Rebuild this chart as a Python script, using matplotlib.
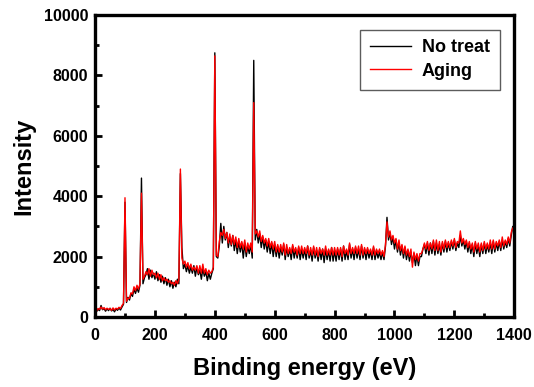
import matplotlib
matplotlib.use('Agg')
import matplotlib.pyplot as plt
import matplotlib.ticker as ticker

plt.rcParams['font.family'] = ['Liberation Sans', 'DejaVu Sans']
plt.rcParams['font.weight'] = 'bold'

# Energía de enlace (eV), cada 5 eV
energia = list(range(0, 1405, 5))

# Intensidad sin tratamiento
no_treat = [
    100, 180, 250, 210, 380, 240, 280, 190, 270, 210, 290, 200, 250, 170, 270, 220, 300, 230, 330, 420,
    3800, 480, 650, 560, 780, 680, 920, 780, 960, 820, 1050, 4600, 1100, 1300, 1400, 1600, 1250, 1550, 1300, 1450,
    1250, 1500, 1200, 1400, 1150, 1350, 1100, 1300, 1050, 1250, 1000, 1200, 950, 1150, 1000, 1250, 1100, 4750, 2300, 1600,
    1750, 1500, 1700, 1450, 1650, 1450, 1700, 1350, 1650, 1400, 1550, 1250, 1600, 1350, 1500, 1200, 1450, 1250, 1450, 1600,
    8750, 2000, 1950, 2350, 3100, 2450, 3000, 2550, 2800, 2300, 2650, 2350, 2700, 2200, 2550, 2100, 2500, 2150, 2450, 1950,
    2450, 2000, 2350, 2100, 2400, 1950, 8500, 2550, 2900, 2450, 2750, 2300, 2650, 2250, 2550, 2150, 2500, 2100, 2450, 2000,
    2400, 2000, 2350, 1950, 2300, 2050, 2400, 1900, 2300, 2000, 2250, 1900, 2350, 1950, 2250, 1950, 2300, 1900, 2250, 1950,
    2250, 1900, 2350, 1950, 2200, 1850, 2300, 1950, 2200, 1850, 2250, 1900, 2250, 1800, 2250, 1900, 2200, 1850, 2300, 1850,
    2200, 1850, 2250, 1900, 2250, 1850, 2350, 1900, 2200, 1900, 2400, 1950, 2250, 1900, 2300, 1950, 2250, 1900, 2350, 1950,
    2250, 1900, 2250, 1950, 2200, 1900, 2300, 1900, 2200, 1950, 2150, 1900, 2150, 1900, 2350, 3300, 2550, 2800, 2400, 2650,
    2250, 2550, 2150, 2450, 2050, 2350, 1950, 2300, 1900, 2200, 1850, 2150, 1800, 2100, 1700, 2050, 1700, 2000, 2000, 2250,
    2400, 2100, 2450, 2050, 2450, 2100, 2500, 2050, 2450, 2100, 2400, 2050, 2450, 2150, 2500, 2150, 2450, 2200, 2500, 2250,
    2550, 2200, 2450, 2300, 2700, 2350, 2550, 2250, 2500, 2150, 2450, 2100, 2400, 2000, 2450, 2100, 2350, 2000, 2400, 2100,
    2450, 2100, 2400, 2150, 2450, 2100, 2500, 2150, 2450, 2200, 2500, 2200, 2550, 2250, 2500, 2300, 2600, 2350, 2700, 3000,
    2800,
]

# Intensidad después del envejecimiento
aging = [
    120, 200, 280, 250, 330, 260, 310, 240, 290, 250, 280, 220, 300, 230, 290, 260, 320, 280, 380, 450,
    3950, 520, 620, 620, 800, 760, 1000, 870, 1050, 920, 1100, 4100, 1250, 1350, 1500, 1400, 1600, 1350, 1550, 1400,
    1450, 1300, 1450, 1250, 1400, 1200, 1300, 1200, 1250, 1150, 1200, 1100, 1150, 1050, 1200, 1100, 1250, 4900, 1950, 1750,
    1850, 1650, 1800, 1600, 1750, 1550, 1650, 1550, 1700, 1450, 1700, 1450, 1750, 1450, 1600, 1400, 1550, 1450, 1500, 1650,
    8650, 2050, 2000, 2500, 2800, 2700, 2900, 2600, 2800, 2450, 2750, 2400, 2700, 2400, 2650, 2300, 2600, 2300, 2500, 2250,
    2550, 2150, 2450, 2250, 2450, 2150, 7100, 2750, 2850, 2650, 2850, 2500, 2700, 2450, 2600, 2350, 2600, 2300, 2500, 2250,
    2500, 2150, 2400, 2150, 2400, 2150, 2450, 2050, 2400, 2100, 2300, 2100, 2400, 2150, 2300, 2050, 2350, 2100, 2350, 2100,
    2300, 2100, 2350, 2050, 2300, 2050, 2350, 2050, 2300, 2000, 2300, 2100, 2250, 2050, 2350, 2050, 2250, 2050, 2300, 2050,
    2300, 2050, 2300, 2050, 2300, 2000, 2350, 2100, 2250, 2050, 2450, 2100, 2300, 2100, 2350, 2100, 2350, 2050, 2400, 2050,
    2300, 2100, 2300, 2100, 2250, 2050, 2350, 2050, 2250, 2100, 2250, 2050, 2200, 2000, 2400, 3150, 2650, 2850, 2550, 2700,
    2450, 2600, 2250, 2550, 2200, 2400, 2100, 2350, 2050, 2250, 2000, 2250, 1650, 2150, 1900, 2100, 1850, 2100, 2100, 2250,
    2450, 2250, 2500, 2200, 2450, 2250, 2550, 2200, 2550, 2200, 2500, 2150, 2500, 2250, 2550, 2300, 2500, 2300, 2550, 2350,
    2600, 2300, 2500, 2450, 2850, 2450, 2600, 2400, 2550, 2300, 2500, 2250, 2450, 2150, 2500, 2250, 2450, 2150, 2450, 2200,
    2500, 2250, 2450, 2250, 2550, 2250, 2550, 2250, 2500, 2350, 2550, 2300, 2650, 2350, 2550, 2400, 2650, 2450, 2800, 2950,
    2850,
]

fig = plt.figure(figsize=(5.34, 3.87), dpi=100)
ax = fig.add_axes([0.178, 0.181, 0.785, 0.780])

ax.plot(energia, no_treat, color='black', linewidth=1.0, label='No treat')
ax.plot(energia, aging, color='#ff0000', linewidth=1.0, label='Aging')

ax.set_xlim(0, 1400)
ax.set_ylim(0, 10000)
ax.xaxis.set_major_locator(ticker.MultipleLocator(200))
ax.xaxis.set_minor_locator(ticker.MultipleLocator(100))
ax.yaxis.set_major_locator(ticker.MultipleLocator(2000))
ax.yaxis.set_minor_locator(ticker.MultipleLocator(1000))

ax.tick_params(which='both', direction='in', width=2, labelsize=11.5, pad=5)
ax.tick_params(axis='x', which='both', pad=8)
ax.tick_params(which='major', length=5)
ax.tick_params(which='minor', length=3)
for lab in ax.get_xticklabels() + ax.get_yticklabels():
    lab.set_fontweight('bold')

for s in ax.spines.values():
    s.set_linewidth(2.4)

ax.set_xlabel('Binding energy (eV)', fontsize=17, fontweight='bold', labelpad=10)
ax.set_ylabel('Intensity', fontsize=17, fontweight='bold', labelpad=6)

leg = ax.legend(loc='upper right', fontsize=13, handlelength=2.3, handletextpad=0.6,
                labelspacing=0.35, fancybox=False, borderaxespad=0.8, borderpad=0.55)
leg.get_frame().set_edgecolor('#333333')
leg.get_frame().set_linewidth(1.0)
for t in leg.get_texts():
    t.set_fontweight('bold')

plt.savefig('out.png', dpi=100)
